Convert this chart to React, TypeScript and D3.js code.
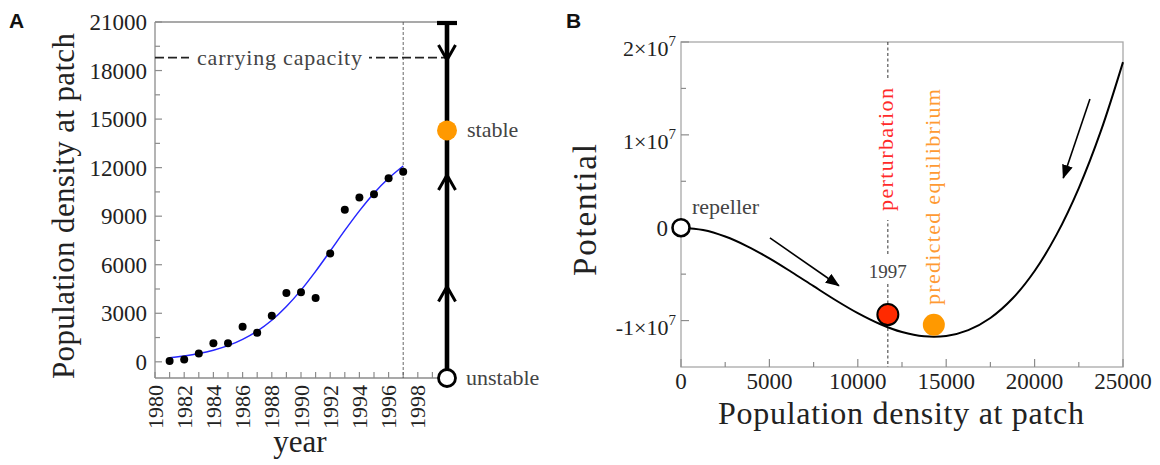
import React from "react";
import * as d3 from "d3";

// ---------- Panel A data ----------
const years = [1981, 1982, 1983, 1984, 1985, 1986, 1987, 1988, 1989, 1990, 1991, 1992, 1993, 1994, 1995, 1996, 1997];
const density = [50, 150, 520, 1150, 1150, 2170, 1800, 2850, 4250, 4300, 3950, 6700, 9400, 10150, 10350, 11350, 11750];
const fitDensity = [250, 360, 510, 720, 1000, 1390, 1900, 2570, 3420, 4430, 5590, 6840, 8120, 9330, 10420, 11340, 12100];
const yTicksA = [0, 3000, 6000, 9000, 12000, 15000, 18000, 21000];
const yMinorA = [1500, 4500, 7500, 10500, 13500, 16500, 19500];
const xTickYearsA = d3.range(1980, 2000);
const xLabelYearsA = [1980, 1982, 1984, 1986, 1988, 1990, 1992, 1994, 1996, 1998];
const carryingCapacity = 18800;
const stableEq = 14300;
const upArrowTips = [4650, 11550];
const downArrowTips = [18650];
const lastYear = 1997;

// ---------- Panel B data ----------
const potN = [0, 1250, 2500, 3750, 5000, 6250, 7500, 8750, 10000, 11250, 12500, 13750, 15000, 16250, 17500, 18750, 20000, 21250, 22500, 23750, 25000];
const potV = [0, -0.25e6, -0.95e6, -2.0e6, -3.3e6, -4.77e6, -6.3e6, -7.81e6, -9.2e6, -10.37e6, -11.24e6, -11.7e6, -11.66e6, -11.03e6, -9.72e6, -7.63e6, -4.66e6, -0.72e6, 4.27e6, 10.42e6, 17.83e6];
const xTicksB = [0, 5000, 10000, 15000, 20000, 25000];
const xMinorB = [2500, 7500, 12500, 17500, 22500];
const yTicksB = [-1e7, 0, 1e7, 2e7];
const yMinorB = [-5e6, 5e6, 1.5e7];
const perturbation = { n: 11700, v: -0.935e7 };
const predicted = { n: 14300, v: -1.045e7 };
const arrowsB = [
  { from: [5030, -1.1e6], to: [8930, -6.25e6] },
  { from: [23130, 1.385e7], to: [21620, 5.35e6] },
];

const SERIF = "'Liberation Serif', 'Times New Roman', serif";
const SANS = "'Liberation Sans', Arial, sans-serif";
const AX = "#8c8c8c";
const ANN = "#444";

export default function App() {
  const xA = d3.scaleLinear().domain([1980, 2000]).range([155, 447]);
  const yA = d3.scaleLinear().domain([-1000, 21000]).range([378, 22]);
  const xB = d3.scaleLinear().domain([0, 25000]).range([681, 1123]);
  const yB = d3.scaleLinear().domain([-1.5e7, 2e7]).range([367, 42]);

  const fitLine = d3
    .line<number>()
    .x((_, i) => xA(years[i]))
    .y((d) => yA(d))
    .curve(d3.curveCatmullRom.alpha(0.5))(fitDensity) as string;

  const potLine = d3
    .line<number>()
    .x((_, i) => xB(potN[i]))
    .y((d) => yB(d))
    .curve(d3.curveCatmullRom.alpha(0.5))(potV) as string;

  const barX = xA(2000);
  const ckY = yA(carryingCapacity);
  const pertX = xB(perturbation.n);

  return (
    <svg width={1160} height={465} style={{ position: "absolute", left: 0, top: 0, background: "#fff" }}
      fontFamily={SERIF}>
      <defs>
        <marker id="ah" viewBox="0 0 14 11" refX={13} refY={5.5} markerWidth={14} markerHeight={11}
          markerUnits="userSpaceOnUse" orient="auto">
          <path d="M0,0 L14,5.5 L0,11 z" fill="#000" />
        </marker>
      </defs>

      {/* ================= Panel A ================= */}
      <text x={9} y={28} fontFamily={SANS} fontWeight="bold" fontSize={21} fill="#111">A</text>

      <line x1={xA(1980)} x2={xA(1980)} y1={yA(21000)} y2={yA(-1000)} stroke={AX} strokeWidth={1.3} />
      <line x1={xA(1980)} x2={barX} y1={yA(-1000)} y2={yA(-1000)} stroke={AX} strokeWidth={1.3} />
      <line x1={xA(1980)} x2={barX} y1={yA(21000)} y2={yA(21000)} stroke={AX} strokeWidth={1.3} />

      {yTicksA.map((v) => (
        <g key={"ya" + v}>
          <line x1={xA(1980)} x2={xA(1980) + 7} y1={yA(v)} y2={yA(v)} stroke={AX} strokeWidth={1.2} />
          <text x={147} y={yA(v)} dy="0.35em" textAnchor="end" fontSize={23} fill="#222">{v}</text>
        </g>
      ))}
      {yMinorA.map((v) => (
        <line key={"yma" + v} x1={xA(1980)} x2={xA(1980) + 5} y1={yA(v)} y2={yA(v)} stroke={AX} strokeWidth={1.2} />
      ))}

      {xTickYearsA.map((y) => (
        <line key={"xa" + y} x1={xA(y)} x2={xA(y)} y1={yA(-1000)} y2={yA(-1000) - 6} stroke={AX} strokeWidth={1.2} />
      ))}
      {xLabelYearsA.map((y) => (
        <text key={"xla" + y} transform={`translate(${xA(y) + 7.5},385) rotate(-90)`} textAnchor="end"
          fontSize={22} fill="#222">{y}</text>
      ))}

      <text transform="translate(74,206) rotate(-90)" textAnchor="middle" fontSize={31} fill="#222"
        textLength={346} lengthAdjust="spacing">Population density at patch</text>
      <text x={300} y={452} textAnchor="middle" fontSize={31} fill="#222">year</text>

      <line x1={xA(lastYear)} x2={xA(lastYear)} y1={yA(21000)} y2={yA(-1000)} stroke="#555" strokeWidth={0.9}
        strokeDasharray="3,2" />

      <line x1={xA(1980)} x2={barX} y1={ckY} y2={ckY} stroke="#222" strokeWidth={1.6} strokeDasharray="9,4" />
      <rect x={189} y={ckY - 12} width={180} height={24} fill="#fff" />
      <text x={197} y={ckY + 7} fontSize={22} fill={ANN} textLength={165} lengthAdjust="spacing">carrying capacity</text>

      <path d={fitLine} fill="none" stroke="#2626ff" strokeWidth={1.5} />
      {years.map((y, i) => (
        <circle key={"p" + y} cx={xA(y)} cy={yA(density[i])} r={4} fill="#000" />
      ))}

      <line x1={barX} x2={barX} y1={yA(21000)} y2={yA(-1000)} stroke="#000" strokeWidth={4.6} />
      <line x1={barX - 10} x2={barX + 10} y1={yA(21000) + 1} y2={yA(21000) + 1} stroke="#000" strokeWidth={4.2} />
      {downArrowTips.map((v) => (
        <path key={"da" + v} d={`M${barX - 8.5},${yA(v) - 15} L${barX},${yA(v)} L${barX + 8.5},${yA(v) - 15}`}
          fill="none" stroke="#000" strokeWidth={3} strokeLinejoin="miter" />
      ))}
      {upArrowTips.map((v) => (
        <path key={"ua" + v} d={`M${barX - 8.5},${yA(v) + 15} L${barX},${yA(v)} L${barX + 8.5},${yA(v) + 15}`}
          fill="none" stroke="#000" strokeWidth={3} strokeLinejoin="miter" />
      ))}
      <circle cx={barX} cy={yA(stableEq)} r={10} fill="#ff9900" />
      <text x={467} y={yA(stableEq) + 7} fontSize={22} fill={ANN}>stable</text>
      <circle cx={barX} cy={yA(-1000)} r={8.5} fill="#fff" stroke="#000" strokeWidth={2.8} />
      <text x={466} y={yA(-1000) + 7} fontSize={22} fill={ANN}>unstable</text>

      {/* ================= Panel B ================= */}
      <text x={566} y={28} fontFamily={SANS} fontWeight="bold" fontSize={21} fill="#111">B</text>

      <rect x={xB(0)} y={yB(2e7)} width={xB(25000) - xB(0)} height={yB(-1.5e7) - yB(2e7)} fill="none"
        stroke="#a8a8a8" strokeWidth={1.3} />

      {xTicksB.map((v) => (
        <g key={"xb" + v}>
          <line x1={xB(v)} x2={xB(v)} y1={yB(-1.5e7)} y2={yB(-1.5e7) - 8} stroke={AX} strokeWidth={1.2} />
          <text x={xB(v)} y={389} textAnchor="middle" fontSize={23} fill="#222">{v}</text>
        </g>
      ))}
      {xMinorB.map((v) => (
        <line key={"xmb" + v} x1={xB(v)} x2={xB(v)} y1={yB(-1.5e7)} y2={yB(-1.5e7) - 5} stroke={AX} strokeWidth={1.2} />
      ))}
      {yTicksB.map((v) => (
        <g key={"yb" + v}>
          <line x1={xB(0)} x2={xB(0) + 8} y1={yB(v)} y2={yB(v)} stroke={AX} strokeWidth={1.2} />
          {v === 0 ? (
            <text x={668} y={yB(v)} dy="0.35em" textAnchor="end" fontSize={23} fill="#222">0</text>
          ) : (
            <text x={676} y={yB(v) + 14} textAnchor="end" fontSize={22} fill="#222">
              {`${v < 0 ? "-" : ""}${Math.abs(v) / 1e7}×10`}
              <tspan dy={-10} fontSize={15}>7</tspan>
            </text>
          )}
        </g>
      ))}
      {yMinorB.map((v) => (
        <line key={"ymb" + v} x1={xB(0)} x2={xB(0) + 5} y1={yB(v)} y2={yB(v)} stroke={AX} strokeWidth={1.2} />
      ))}

      <text x={901} y={424} textAnchor="middle" fontSize={32} fill="#222" textLength={366}
        lengthAdjust="spacing">Population density at patch</text>
      <text transform="translate(596,210) rotate(-90)" textAnchor="middle" fontSize={33} fill="#222"
        textLength={132} lengthAdjust="spacing">Potential</text>

      <line x1={pertX} x2={pertX} y1={yB(2e7)} y2={yB(-1.5e7)} stroke="#333" strokeWidth={1} strokeDasharray="3,2.5" />
      <rect x={pertX - 14} y={80} width={28} height={140} fill="#fff" />
      <rect x={pertX - 22} y={256} width={44} height={27} fill="#fff" />
      <text transform={`translate(${pertX + 5},88) rotate(-90)`} textAnchor="end" fontSize={22} fill="#ff2a2a"
        textLength={123} lengthAdjust="spacing">perturbation</text>
      <text x={pertX} y={278} textAnchor="middle" fontSize={19} fill={ANN}>1997</text>
      <text transform={`translate(${xB(predicted.n) + 6},89) rotate(-90)`} textAnchor="end" fontSize={22}
        fill="#ff9a33" textLength={216} lengthAdjust="spacing">predicted equilibrium</text>

      <path d={potLine} fill="none" stroke="#000" strokeWidth={2} />

      {arrowsB.map((a, i) => (
        <line key={"ab" + i} x1={xB(a.from[0])} y1={yB(a.from[1])} x2={xB(a.to[0])} y2={yB(a.to[1])}
          stroke="#000" strokeWidth={1.6} markerEnd="url(#ah)" />
      ))}

      <circle cx={xB(0)} cy={yB(0)} r={8.5} fill="#fff" stroke="#000" strokeWidth={2.6} />
      <text x={692} y={214} fontSize={22} fill={ANN}>repeller</text>

      <circle cx={xB(perturbation.n)} cy={yB(perturbation.v)} r={10.5} fill="#ff2a00" stroke="#000" strokeWidth={2} />
      <circle cx={xB(predicted.n)} cy={yB(predicted.v)} r={11} fill="#ff9900" />
    </svg>
  );
}
